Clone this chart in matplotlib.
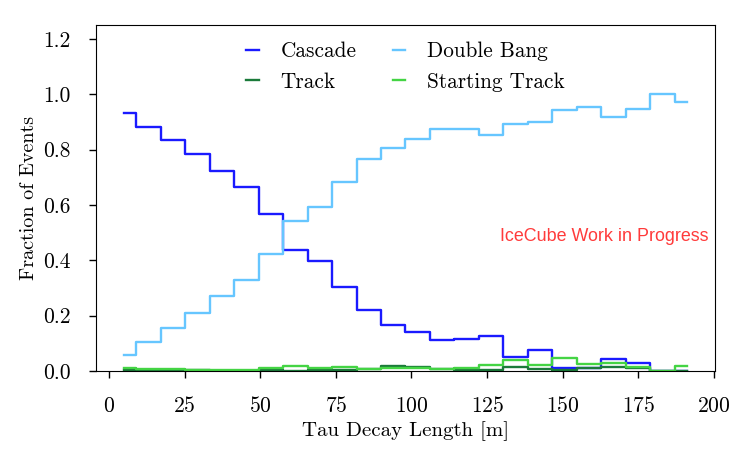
import numpy as np
import matplotlib
matplotlib.use('Agg')
import matplotlib.pyplot as plt

plt.rcParams['font.family'] = 'serif'
plt.rcParams['font.serif'] = ['cmr10']
plt.rcParams['mathtext.fontset'] = 'cm'
plt.rcParams['axes.formatter.use_mathtext'] = True

# bin centres of the tau decay length histogram
edges = np.linspace(1, 195, 25)
centers = 0.5 * (edges[:-1] + edges[1:])

cascade = [0.931, 0.882, 0.836, 0.783, 0.724, 0.664, 0.567, 0.437, 0.399, 0.303,
           0.220, 0.166, 0.140, 0.112, 0.114, 0.126, 0.052, 0.076, 0.010, 0.012,
           0.042, 0.028, 0.0, 0.0]
double_bang = [0.058, 0.106, 0.155, 0.209, 0.271, 0.329, 0.421, 0.543, 0.591, 0.681,
               0.767, 0.805, 0.838, 0.875, 0.874, 0.852, 0.893, 0.898, 0.942, 0.955,
               0.916, 0.945, 1.000, 0.970]
track = [0.002, 0.002, 0.002, 0.002, 0.001, 0.001, 0.003, 0.0, 0.002, 0.004,
         0.006, 0.018, 0.014, 0.006, 0.002, 0.002, 0.015, 0.008, 0.005, 0.009,
         0.015, 0.011, 0.0, 0.0]
starting_track = [0.010, 0.008, 0.006, 0.005, 0.004, 0.003, 0.010, 0.019, 0.011, 0.016,
                  0.007, 0.012, 0.009, 0.007, 0.012, 0.022, 0.041, 0.023, 0.047, 0.024,
                  0.030, 0.016, 0.0, 0.018]

fig = plt.figure(figsize=(7.47, 4.62), dpi=100)
ax = fig.add_axes([0.1285, 0.197, 0.8285, 0.749])

ax.plot(centers, cascade, drawstyle='steps-mid', color='#1a1aff', lw=1.7, label='Cascade')
ax.plot(centers, track, drawstyle='steps-mid', color='#1b7a3a', lw=1.7, label='Track')
ax.plot(centers, double_bang, drawstyle='steps-mid', color='#66c6ff', lw=1.7, label='Double Bang')
ax.plot(centers, starting_track, drawstyle='steps-mid', color='#44d444', lw=1.7, label='Starting Track')

ax.set_ylim(0, 1.25)
ax.set_xticks([0, 25, 50, 75, 100, 125, 150, 175, 200])
ax.set_yticks([0.0, 0.2, 0.4, 0.6, 0.8, 1.0, 1.2])
ax.set_yticklabels(['0.0', '0.2', '0.4', '0.6', '0.8', '1.0', '1.2'])
ax.tick_params(direction='out', length=5, width=1, labelsize=15.5, pad=13)

ax.set_xlabel('Tau Decay Length [m]', fontsize=15)
ax.set_ylabel('Fraction of Events', fontsize=14.5)

ax.legend(loc='upper center', ncol=2, frameon=False, fontsize=15.3,
          handlelength=0.6, columnspacing=1.7, handletextpad=1.0, labelspacing=0.5,
          borderaxespad=0.4)

ax.text(0.99, 0.39, 'IceCube Work in Progress', transform=ax.transAxes,
        ha='right', va='center', color='#ff3b3b', fontsize=12.9, family='Liberation Sans')

fig.savefig('out.png', dpi=100)
